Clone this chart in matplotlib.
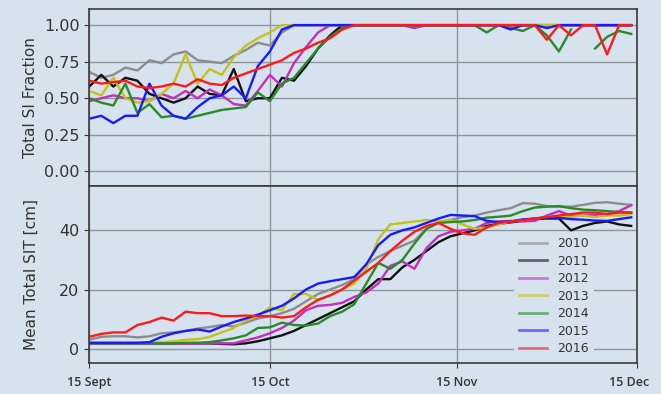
import numpy as np
import matplotlib
matplotlib.use('Agg')
from matplotlib import pyplot as plt
from matplotlib.transforms import ScaledTranslation

# sample days after 15 Sept (every 2nd day)
days = np.arange(0, 91, 2)

years = ['2010', '2011', '2012', '2013', '2014', '2015', '2016']
colors = ['#8c8c8c', '#111111', '#c030c0', '#c2c21a', '#2a8a2a', '#1a1aff', '#ff1a1a']

# total sea-ice fraction
frac_2010 = [0.68, 0.64, 0.66, 0.71, 0.69, 0.76, 0.74, 0.80, 0.82, 0.76,
             0.75, 0.74, 0.79, 0.83, 0.88, 0.86, 0.95, 1.00, 1.00, 1.00,
             1.00, 1.00, 1.00, 1.00, 1.00, 1.00, 1.00, 1.00, 1.00, 1.00,
             1.00, 1.00, 1.00, 1.00, 1.00, 1.00, 1.00, 1.00, 1.00, 1.00,
             1.00, 1.00, 1.00, 1.00, 1.00, 1.00]
frac_2011 = [0.58, 0.66, 0.58, 0.64, 0.62, 0.53, 0.50, 0.47, 0.50, 0.58,
             0.53, 0.52, 0.70, 0.48, 0.50, 0.50, 0.64, 0.62, 0.72, 0.84,
             0.93, 1.00, 1.00, 1.00, 1.00, 1.00, 1.00, 1.00, 1.00, 1.00,
             1.00, 1.00, 1.00, 1.00, 1.00, 1.00, 1.00, 1.00, 1.00, 1.00,
             1.00, 1.00, 1.00, 1.00, 1.00, 1.00]
frac_2012 = [0.48, 0.50, 0.52, 0.50, 0.50, 0.48, 0.53, 0.50, 0.55, 0.50,
             0.56, 0.52, 0.46, 0.45, 0.55, 0.66, 0.58, 0.74, 0.85, 0.95,
             1.00, 1.00, 1.00, 1.00, 1.00, 1.00, 1.00, 0.98, 1.00, 1.00,
             1.00, 1.00, 1.00, 1.00, 1.00, 1.00, 1.00, 1.00, 1.00, 1.00,
             1.00, 1.00, 1.00, 1.00, 1.00, 1.00]
frac_2013 = [0.55, 0.52, 0.64, 0.50, 0.47, 0.48, 0.53, 0.60, 0.80, 0.60,
             0.70, 0.66, 0.78, 0.86, 0.91, 0.95, 1.00, 1.00, 1.00, 1.00,
             1.00, 1.00, 1.00, 1.00, 1.00, 1.00, 1.00, 1.00, 1.00, 1.00,
             1.00, 1.00, 1.00, 1.00, 1.00, 1.00, 1.00, 1.00, 1.00, 1.00,
             1.00, 1.00, 1.00, 1.00, 1.00, 1.00]
frac_2014 = [0.50, 0.47, 0.45, 0.60, 0.40, 0.46, 0.37, 0.38, 0.36, 0.38,
             0.40, 0.42, 0.43, 0.44, 0.54, 0.48, 0.60, 0.64, 0.74, 0.84,
             0.92, 0.98, 1.00, 1.00, 1.00, 1.00, 1.00, 1.00, 1.00, 1.00,
             1.00, 1.00, 1.00, 0.95, 1.00, 0.98, 0.96, 1.00, 0.93, 0.82,
             0.97, np.nan, 0.84, 0.92, 0.96, 0.94]
frac_2015 = [0.36, 0.38, 0.33, 0.38, 0.38, 0.60, 0.45, 0.38, 0.36, 0.44,
             0.50, 0.52, 0.58, 0.50, 0.72, 0.82, 0.97, 1.00, 1.00, 1.00,
             1.00, 1.00, 1.00, 1.00, 1.00, 1.00, 1.00, 1.00, 1.00, 1.00,
             1.00, 1.00, 1.00, 1.00, 1.00, 0.97, 1.00, 1.00, 0.98, 1.00,
             1.00, 1.00, 1.00, 1.00, 1.00, 1.00]
frac_2016 = [0.62, 0.60, 0.61, 0.62, 0.58, 0.57, 0.58, 0.60, 0.58, 0.63,
             0.60, 0.59, 0.64, 0.67, 0.70, 0.73, 0.76, 0.81, 0.84, 0.88,
             0.91, 0.97, 1.00, 1.00, 1.00, 1.00, 1.00, 1.00, 1.00, 1.00,
             1.00, 1.00, 1.00, 1.00, 1.00, 1.00, 1.00, 1.00, 0.90, 1.00,
             0.93, 1.00, 1.00, 0.80, 1.00, 1.00]

# mean total sea-ice thickness [cm]
sit_2010 = [3.0, 4.0, 4.2, 4.2, 3.8, 4.2, 5.2, 5.5, 6.0, 6.8,
            7.3, 8.0, 7.5, 8.8, 10.2, 11.0, 12.0, 13.5, 16.0, 18.5,
            20.0, 21.5, 23.5, 28.5, 31.0, 33.0, 34.8, 36.5, 40.5, 42.8,
            43.5, 44.5, 45.0, 46.0, 46.8, 47.5, 49.2, 49.0, 48.2, 48.0,
            48.0, 48.6, 49.3, 49.5, 49.0, 48.6]
sit_2011 = [1.8, 1.8, 1.8, 1.8, 1.8, 1.8, 1.8, 1.8, 1.8, 1.8,
            1.8, 1.6, 1.5, 1.8, 2.5, 3.5, 4.5, 6.0, 8.0, 10.0,
            12.0, 14.0, 16.0, 20.0, 23.5, 23.5, 27.5, 30.0, 33.0, 36.0,
            38.0, 39.0, 40.0, 41.5, 42.2, 42.7, 43.2, 43.8, 44.0, 44.0,
            40.0, 41.5, 42.5, 43.0, 42.0, 41.5]
sit_2012 = [1.8, 1.8, 1.8, 1.8, 1.8, 1.8, 1.8, 1.8, 1.8, 1.8,
            1.8, 1.8, 1.8, 2.8, 3.8, 5.2, 7.0, 9.5, 13.0, 14.5,
            14.8, 15.5, 17.5, 19.0, 22.0, 28.0, 29.5, 27.0, 34.0, 38.0,
            39.5, 40.0, 40.5, 42.5, 43.0, 43.2, 43.0, 43.2, 45.0, 46.5,
            45.0, 45.0, 45.2, 45.5, 46.5, 48.5]
sit_2013 = [2.0, 2.0, 2.0, 2.0, 2.0, 2.0, 2.2, 2.5, 3.0, 3.2,
            4.0, 5.5, 7.0, 9.5, 11.0, 14.0, 13.0, 18.5, 18.5, 16.5,
            18.0, 20.0, 22.0, 27.0, 37.0, 42.0, 42.5, 43.0, 43.5, 43.0,
            43.5, 42.0, 40.5, 41.0, 42.0, 43.0, 43.5, 44.0, 44.5, 44.8,
            44.5, 45.0, 44.5, 45.0, 45.0, 45.5]
sit_2014 = [1.8, 1.8, 1.8, 1.8, 1.8, 1.8, 1.8, 1.8, 2.0, 2.0,
            2.2, 2.8, 3.5, 4.5, 7.0, 7.2, 8.8, 8.0, 7.8, 8.5,
            11.0, 12.5, 15.0, 22.0, 29.0, 27.0, 30.0, 35.5, 40.5, 42.5,
            42.8, 43.0, 43.5, 44.3, 44.6, 45.0, 46.5, 47.7, 48.0, 48.2,
            47.5, 47.0, 46.8, 46.5, 46.2, 46.0]
sit_2015 = [2.0, 2.0, 2.0, 2.0, 2.0, 2.2, 4.0, 5.2, 6.0, 6.5,
            5.8, 7.5, 9.0, 10.2, 11.5, 13.0, 14.5, 17.0, 20.0, 22.0,
            22.8, 23.5, 24.2, 28.5, 35.0, 38.5, 40.0, 41.0, 42.5, 44.0,
            45.2, 45.0, 44.8, 43.2, 42.8, 43.0, 43.7, 44.0, 44.4, 44.2,
            43.8, 43.6, 43.3, 43.2, 43.8, 44.4]
sit_2016 = [4.0, 5.0, 5.5, 5.5, 8.0, 9.0, 10.5, 9.5, 12.5, 12.0,
            12.0, 11.0, 11.0, 11.2, 11.0, 11.0, 10.5, 11.0, 14.0, 16.5,
            18.0, 20.0, 23.0, 26.0, 29.0, 33.0, 36.5, 39.5, 41.5, 42.5,
            40.5, 39.0, 38.5, 41.0, 42.5, 43.0, 43.5, 44.0, 44.5, 45.0,
            45.5, 46.0, 46.0, 45.5, 46.0, 46.0]

frac = [frac_2010, frac_2011, frac_2012, frac_2013, frac_2014, frac_2015, frac_2016]
sit = [sit_2010, sit_2011, sit_2012, sit_2013, sit_2014, sit_2015, sit_2016]

tick_days = [0, 30, 61, 91]
tick_labels = ['15 Sept', '15 Oct', '15 Nov', '15 Dec']

bg = '#d6e3ef'
fig, (ax1, ax2) = plt.subplots(2, 1, sharex=True, figsize=(6.61, 3.94), dpi=100, facecolor=bg)
fig.subplots_adjust(left=0.135, right=0.964, top=0.977, bottom=0.079, hspace=0)

for i in range(len(years)):
    ax1.plot(days, frac[i], color=colors[i], lw=1.7)
    ax2.plot(days, sit[i], color=colors[i], lw=1.7, label=years[i])

for ax in (ax1, ax2):
    ax.set_facecolor(bg)
    ax.grid(True, color='#8e959c', lw=1.0)
    ax.set_axisbelow(True)
    for s in ax.spines.values():
        s.set_color('#3a3a3a')
        s.set_linewidth(1.2)
    ax.tick_params(labelsize=11.5, colors='#333333', labelcolor='#333333')

ax1.set_ylim(-0.1, 1.11)
ax1.set_yticks([0.0, 0.25, 0.5, 0.75, 1.0])
ax1.set_ylabel('Total SI Fraction', fontsize=11, color='#333333')
ax1.tick_params(axis='x', length=0)

ax2.set_ylim(-4.8, 55)
ax2.set_yticks([0, 20, 40])
ax2.set_ylabel('Mean Total SIT [cm]', fontsize=11, color='#333333')
ax2.set_xlim(0, 91)
ax2.set_xticks(tick_days)
ax2.set_xticklabels(tick_labels, fontsize=9, fontweight='semibold', family='Open Sans')
ax2.tick_params(axis='x', pad=6)
last = ax2.get_xticklabels()[-1]
last.set_transform(last.get_transform() + ScaledTranslation(-8 / 100, 0, fig.dpi_scale_trans))

leg = ax2.legend(loc='lower right', bbox_to_anchor=(0.925, 0.0), fontsize=9,
                 labelspacing=0.36, handlelength=2.2, borderaxespad=0.2,
                 facecolor=bg, edgecolor='none', framealpha=1)
for h in leg.get_lines():
    h.set_alpha(0.6)
    h.set_linewidth(2.0)
for t in leg.get_texts():
    t.set_color('#333333')

fig.align_ylabels([ax1, ax2])
plt.savefig('out.png', dpi=100, facecolor=bg)
